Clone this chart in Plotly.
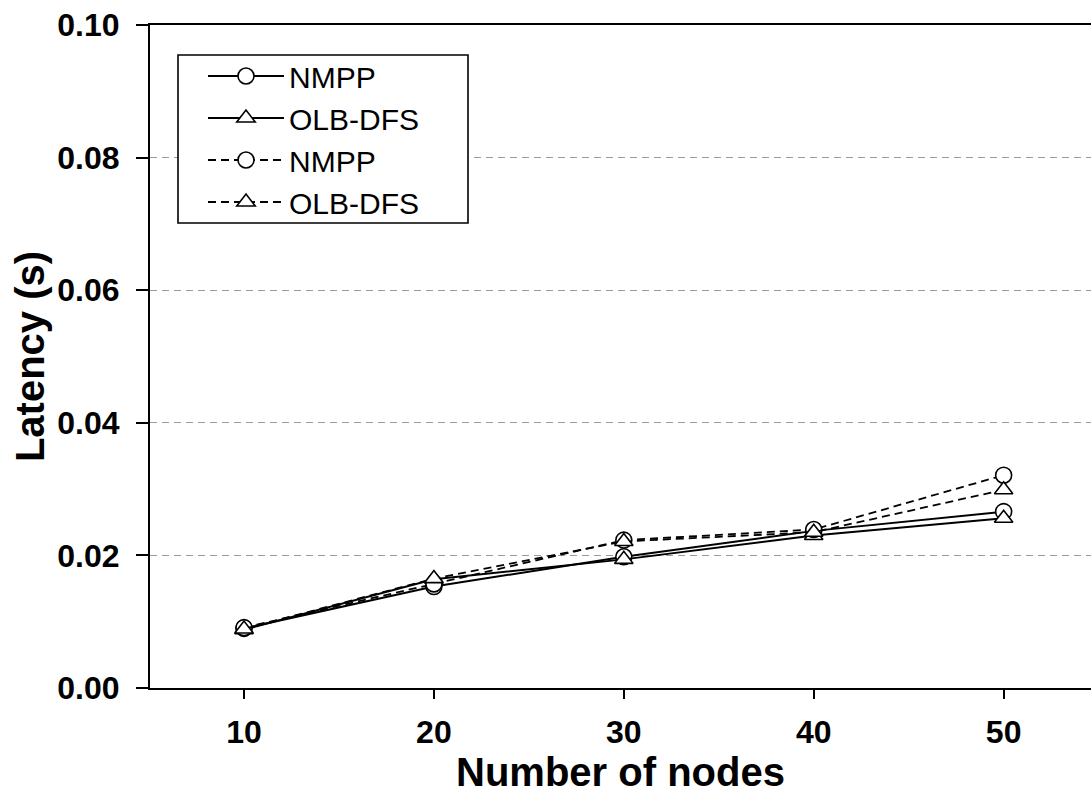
import plotly.graph_objects as go

# Number of nodes on the x axis
nodes = [10, 20, 30, 40, 50]

# Latency (s) per scheme; two runs each (solid and dashed)
nmpp_a = [0.0090, 0.0153, 0.0198, 0.0237, 0.0266]
olb_a = [0.0088, 0.0164, 0.0194, 0.0230, 0.0256]
nmpp_b = [0.0091, 0.0157, 0.0223, 0.0239, 0.0321]
olb_b = [0.0089, 0.0165, 0.0221, 0.0235, 0.0299]

y_ticks = [0.00, 0.02, 0.04, 0.06, 0.08, 0.10]
x_ticks = [10, 20, 30, 40, 50]

FONT = "Liberation Sans, Arial, sans-serif"

series = [
    ("NMPP", nmpp_a, "solid", "circle"),
    ("OLB-DFS", olb_a, "solid", "triangle-up"),
    ("NMPP", nmpp_b, "dash", "circle"),
    ("OLB-DFS", olb_b, "dash", "triangle-up"),
]

fig = go.Figure()
for name, vals, dash, sym in series:
    fig.add_trace(go.Scatter(
        x=nodes, y=vals, name=name, mode="lines+markers",
        line=dict(color="black", width=2 if dash == "solid" else 1.8,
                  dash="solid" if dash == "solid" else "8px,5px"),
        marker=dict(symbol=sym, size=16, color="white", line=dict(color="black", width=1.6)),
    ))

# plot area spans x 150..1091 px and y 25..688 px
PL, PR, PT, PB = 150, 1091, 25, 688


def px_x(p):
    return (p - PL) / (PR - PL)


def px_y(p):
    return (PB - p) / (PB - PT)


fig.update_layout(
    width=1091, height=796,
    margin=dict(l=PL, r=1091 - PR, t=PT, b=796 - PB),
    paper_bgcolor="white", plot_bgcolor="white",
    font=dict(family=FONT, color="black"),
    showlegend=True,
    legend=dict(
        x=px_x(203), y=px_y(50), xanchor="left", yanchor="top",
        bgcolor="rgba(0,0,0,0)", borderwidth=0,
        font=dict(family=FONT, size=30, color="black"),
        itemwidth=76, tracegroupgap=0,
    ),
    shapes=[dict(
        type="rect", xref="paper", yref="paper",
        x0=px_x(178), x1=px_x(468), y0=px_y(223), y1=px_y(55),
        line=dict(color="black", width=1.6), fillcolor="white", layer="above",
    )],
    xaxis=dict(
        range=[5.05, 54.6], tickvals=x_ticks, ticktext=[str(v) for v in x_ticks],
        showline=True, linecolor="black", linewidth=2, mirror=True,
        ticks="outside", ticklen=9, tickwidth=2, tickcolor="black",
        showgrid=False, zeroline=False,
        tickfont=dict(family=FONT, size=32, color="black", weight="bold"),
        ticklabelstandoff=6,
        title=dict(text="<b>Number of nodes</b>", font=dict(family=FONT, size=40, color="black"), standoff=4),
    ),
    yaxis=dict(
        range=[0, 0.1], tickvals=y_ticks, ticktext=[f"{v:.2f}" for v in y_ticks],
        showline=True, linecolor="black", linewidth=2,
        ticks="outside", ticklen=12, tickwidth=2, tickcolor="black",
        showgrid=True, gridcolor="#9a9a9a", gridwidth=1.2, griddash="7px,5px",
        zeroline=False,
        tickfont=dict(family=FONT, size=32, color="black", weight="bold"),
        ticklabelstandoff=10,
        title=dict(text="<b>Latency (s)</b>", font=dict(family=FONT, size=40, color="black"), standoff=0),
    ),
    xaxis2=dict(
        overlaying="x", range=[5.05, 54.6], tickvals=x_ticks, showticklabels=False,
        ticks="inside", ticklen=8, tickwidth=2, tickcolor="black",
        showline=False, showgrid=False, zeroline=False, side="bottom",
    ),
    yaxis2=dict(
        overlaying="y", range=[0, 0.1], tickvals=y_ticks, showticklabels=False,
        ticks="inside", ticklen=10, tickwidth=2, tickcolor="black",
        showline=False, showgrid=False, zeroline=False, side="left",
    ),
)

fig.write_html("out.html")
